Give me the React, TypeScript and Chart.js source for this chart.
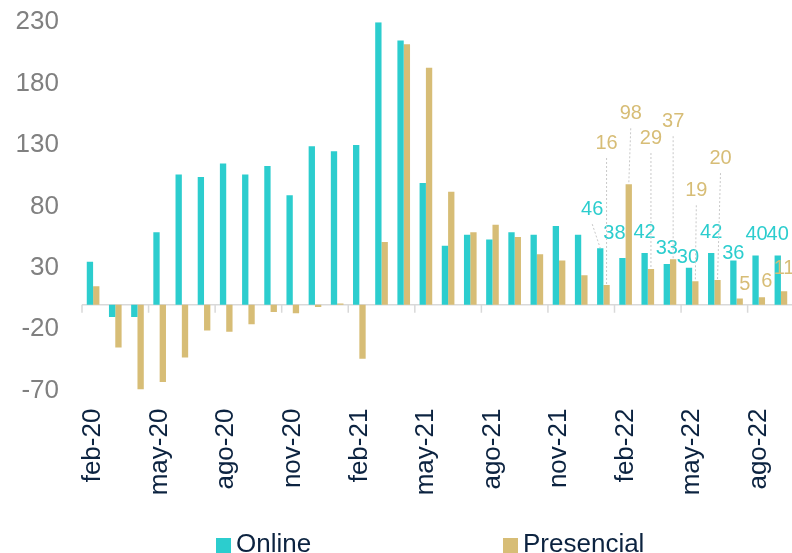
import React, { useEffect, useRef } from "react";
import { Chart, registerables } from "chart.js";

Chart.register(...registerables);

const categories = [
  "feb-20", "mar-20", "abr-20", "may-20", "jun-20", "jul-20", "ago-20", "sep-20", "oct-20", "nov-20", "dic-20",
  "ene-21", "feb-21", "mar-21", "abr-21", "may-21", "jun-21", "jul-21", "ago-21", "sep-21", "oct-21", "nov-21", "dic-21",
  "ene-22", "feb-22", "mar-22", "abr-22", "may-22", "jun-22", "jul-22", "ago-22", "sep-22",
];

const online = [35, -10, -10, 59, 106, 104, 115, 106, 113, 89, 129, 125, 130, 230, 215, 99, 48, 57, 53, 59, 57, 64, 57, 46, 38, 42, 33, 30, 42, 36, 40, 40];
const presencial = [15, -35, -69, -63, -43, -21, -22, -16, -6, -7, -2, 1, -44, 51, 212, 193, 92, 59, 65, 55, 41, 36, 24, 16, 98, 29, 37, 19, 20, 5, 6, 11];

const yMin = -70;
const yMax = 230;
const yStep = 50;

// data labels shown for the last months (index from LABEL_START)
const LABEL_START = 23;
const onlineLabelDx = [-8, -8, 0, 0, -1, 0, 0, 1, 0];
const onlineLabelDy = [-39, -24, -21, -16, -10, -21, -7, -21, -21];
const presLabelDx = [0, 2, 0, 0, 1, 3, 5, 5, 0];
const presLabelDy = [-142, -71, -131, -138, -91, -122, -14, -16, -23];

const TEAL = "#2ccdce";
const GOLD = "#d7bd76";
const NAVY = "#0c2340";
const FONT = "'Liberation Sans', Arial, sans-serif";

const overlayPlugin = {
  id: "overlay",
  beforeDatasetsDraw(chart: any) {
    const { ctx, chartArea, scales } = chart;
    const x = scales.x;
    const y = scales.y;
    const y0 = y.getPixelForValue(0);
    const cw = (x.right - x.left) / categories.length;
    ctx.save();
    ctx.strokeStyle = "#d9d9d9";
    ctx.lineWidth = 1.5;
    ctx.beginPath();
    ctx.moveTo(chartArea.left, y0);
    ctx.lineTo(chartArea.right, y0);
    for (let i = 0; i < categories.length; i += 3) {
      const px = x.getPixelForValue(i) - cw / 2;
      ctx.moveTo(px, y0);
      ctx.lineTo(px, y0 + 8);
    }
    ctx.stroke();
    ctx.restore();
  },
  afterDatasetsDraw(chart: any) {
    const ctx = chart.ctx;
    ctx.save();
    ctx.font = `20px ${FONT}`;
    ctx.textAlign = "center";
    ctx.textBaseline = "middle";
    const draw = (meta: any, values: number[], dxs: number[], dys: number[], color: string) => {
      for (let j = 0; j < dxs.length; j++) {
        const i = LABEL_START + j;
        const bar = meta.data[i];
        if (!bar) continue;
        const bx = bar.x;
        const by = bar.y;
        const lx = bx + dxs[j];
        const ly = by + dys[j];
        if (dys[j] < -30) {
          ctx.save();
          ctx.strokeStyle = "#c8c8c8";
          ctx.lineWidth = 1;
          ctx.setLineDash([2, 2]);
          ctx.beginPath();
          ctx.moveTo(lx, ly + 15);
          ctx.lineTo(bx, by);
          ctx.stroke();
          ctx.restore();
        }
        ctx.fillStyle = color;
        ctx.fillText(String(values[i]), lx, ly);
      }
    };
    draw(chart.getDatasetMeta(0), online, onlineLabelDx, onlineLabelDy, TEAL);
    draw(chart.getDatasetMeta(1), presencial, presLabelDx, presLabelDy, GOLD);
    ctx.restore();
  },
  afterDraw(chart: any) {
    const ctx = chart.ctx;
    const items = [
      { text: chart.data.datasets[0].label, color: TEAL, x: 216 },
      { text: chart.data.datasets[1].label, color: GOLD, x: 503 },
    ];
    ctx.save();
    ctx.font = `26px ${FONT}`;
    ctx.textAlign = "left";
    ctx.textBaseline = "alphabetic";
    for (const it of items) {
      ctx.fillStyle = it.color;
      ctx.fillRect(it.x, 538, 15, 15);
      ctx.fillStyle = NAVY;
      ctx.fillText(it.text, it.x + 20, 551.5);
    }
    ctx.restore();
  },
};

export default function App() {
  const ref = useRef<HTMLCanvasElement | null>(null);
  useEffect(() => {
    if (!ref.current) return;
    const chart = new Chart(ref.current, {
      type: "bar",
      data: {
        labels: categories,
        datasets: [
          {
            label: "Online",
            data: online,
            backgroundColor: TEAL,
            categoryPercentage: 0.57,
            barPercentage: 1,
          },
          {
            label: "Presencial",
            data: presencial,
            backgroundColor: GOLD,
            categoryPercentage: 0.57,
            barPercentage: 1,
          },
        ],
      },
      options: {
        animation: false,
        responsive: true,
        maintainAspectRatio: false,
        layout: { padding: { top: 22.2, left: 0, right: 0, bottom: 0 } },
        plugins: {
          legend: { display: false },
          tooltip: { enabled: false },
        },
        scales: {
          x: {
            grid: { display: false, drawTicks: false },
            border: { display: false },
            ticks: {
              autoSkip: false,
              minRotation: 90,
              maxRotation: 90,
              padding: 18,
              color: NAVY,
              font: { family: FONT, size: 26 },
              callback: (_v: any, i: number) => (i % 3 === 0 ? categories[i] : null),
            },
            afterFit: (s: any) => {
              s.height = 162.4;
              s.paddingLeft = 0;
              s.paddingRight = 0;
            },
          },
          y: {
            min: yMin,
            max: yMax,
            grid: { display: false, drawTicks: false },
            border: { display: false },
            ticks: {
              stepSize: yStep,
              padding: 23,
              color: "#808080",
              font: { family: FONT, size: 26 },
            },
            afterFit: (s: any) => {
              s.width = 82;
              s.paddingTop = 0;
              s.paddingBottom = 0;
            },
          },
        },
      },
      plugins: [overlayPlugin],
    });
    return () => chart.destroy();
  }, []);
  return (
    <div style={{ position: "fixed", left: 0, top: 0, width: 792, height: 553 }}>
      <canvas ref={ref} />
    </div>
  );
}
